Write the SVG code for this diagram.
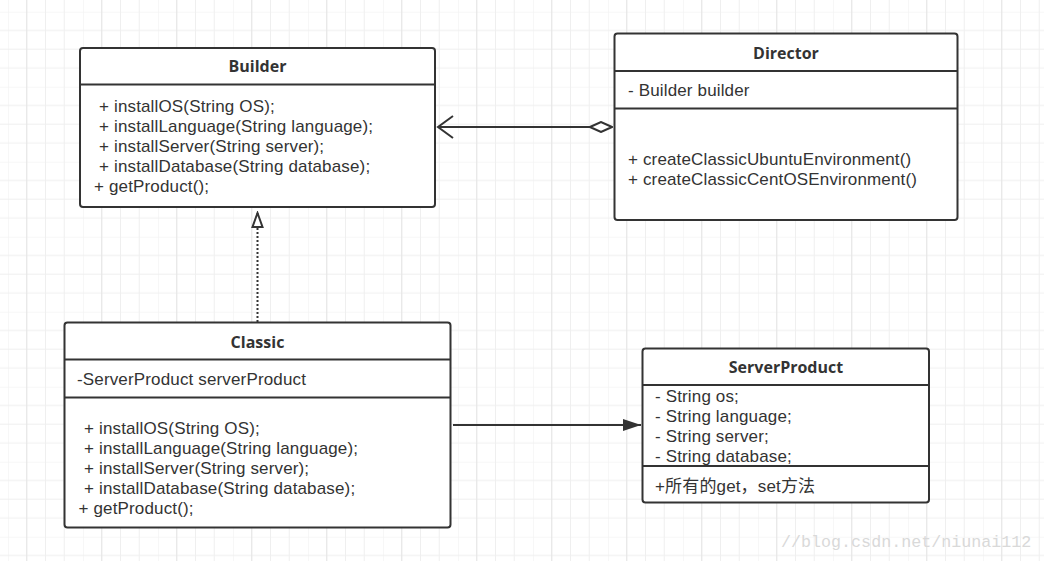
<svg xmlns="http://www.w3.org/2000/svg" width="1044" height="561" viewBox="0 0 1044 561">
<style>
.box{fill:#fff;stroke:#333;stroke-width:2}
.div{stroke:#333;stroke-width:2}
.t{font-family:"Liberation Sans","Noto Sans CJK SC",sans-serif;font-size:17px;letter-spacing:0.15px;fill:#333}
.h{font-family:"Open Sans","Noto Sans",sans-serif;font-size:16px;font-weight:bold;fill:#333;text-anchor:middle}
.ln{stroke:#333;stroke-width:2;fill:none}
.wm{font-family:"Liberation Mono","DejaVu Sans Mono",monospace;font-size:16.7px;fill:#d9d9d9}
</style>
<defs>
<pattern id="grid" x="8" y="11.7" width="75" height="75" patternUnits="userSpaceOnUse">
<path d="M0 0V75M18.75 0V75M37.5 0V75M56.25 0V75M0 0H75M0 18.75H75M0 37.5H75M0 56.25H75" stroke="#efefef" stroke-width="1" fill="none"/>
<path d="M18.75 0V75" stroke="#e6e6e6" stroke-width="1"/>
</pattern>
<marker id="open" viewBox="0 0 20 24" refX="17" refY="12" markerWidth="20" markerHeight="24" markerUnits="userSpaceOnUse" orient="auto">
<path d="M2 1L17 12L2 23" fill="none" stroke="#333" stroke-width="2"/>
</marker>
<marker id="diamond" viewBox="0 0 24 12" refX="1" refY="6" markerWidth="24" markerHeight="12" markerUnits="userSpaceOnUse" orient="auto">
<path d="M1 6L12 1L23 6L12 11Z" fill="#fff" stroke="#333" stroke-width="2"/>
</marker>
<marker id="tri" viewBox="0 0 18 14" refX="16" refY="7" markerWidth="18" markerHeight="14" markerUnits="userSpaceOnUse" orient="auto">
<path d="M16 7L2 2V12Z" fill="#fff" stroke="#333" stroke-width="2"/>
</marker>
<marker id="filled" viewBox="0 0 20 14" refX="19" refY="7" markerWidth="20" markerHeight="14" markerUnits="userSpaceOnUse" orient="auto">
<path d="M1 1L19 7L1 13Z" fill="#333"/>
</marker>
</defs>
<rect width="1044" height="561" fill="#fff"/>
<rect width="1044" height="561" fill="url(#grid)"/>
<g id="connectors">
<line class="ln" x1="612" y1="127" x2="438" y2="127" marker-start="url(#diamond)" marker-end="url(#open)"/>
<line class="ln" x1="257.5" y1="322" x2="257.5" y2="213" stroke-dasharray="2 2" marker-end="url(#tri)"/>
<line class="ln" x1="453" y1="425" x2="641" y2="425" marker-end="url(#filled)"/>
</g>
<g id="builder">
<rect class="box" x="80" y="48" width="355" height="159" rx="3"/>
<line class="div" x1="80" y1="84.5" x2="435" y2="84.5"/>
<text class="h" x="257.5" y="72">Builder</text>
<text class="t" x="99" y="112">+ installOS(String OS);</text>
<text class="t" x="99" y="132">+ installLanguage(String language);</text>
<text class="t" x="99" y="152">+ installServer(String server);</text>
<text class="t" x="99" y="172">+ installDatabase(String database);</text>
<text class="t" x="94" y="192">+ getProduct();</text>
</g>
<g id="director">
<rect class="box" x="614.5" y="33.5" width="343" height="186.5" rx="3"/>
<line class="div" x1="614.5" y1="71" x2="957.5" y2="71"/>
<line class="div" x1="614.5" y1="108.5" x2="957.5" y2="108.5"/>
<text class="h" x="786" y="59">Director</text>
<text class="t" x="628" y="96">- Builder builder</text>
<text class="t" x="628" y="164.5">+ createClassicUbuntuEnvironment()</text>
<text class="t" x="628" y="184.5">+ createClassicCentOSEnvironment()</text>
</g>
<g id="classic">
<rect class="box" x="64.5" y="322.5" width="386" height="205" rx="3"/>
<line class="div" x1="64.5" y1="359.5" x2="450.5" y2="359.5"/>
<line class="div" x1="64.5" y1="397.5" x2="450.5" y2="397.5"/>
<text class="h" x="257.5" y="348">Classic</text>
<text class="t" x="77" y="384.5">-ServerProduct serverProduct</text>
<text class="t" x="84" y="433.5">+ installOS(String OS);</text>
<text class="t" x="84" y="453.5">+ installLanguage(String language);</text>
<text class="t" x="84" y="473.5">+ installServer(String server);</text>
<text class="t" x="84" y="493.5">+ installDatabase(String database);</text>
<text class="t" x="78.5" y="513.5">+ getProduct();</text>
</g>
<g id="serverproduct">
<rect class="box" x="642.5" y="348.5" width="286.5" height="154" rx="3"/>
<line class="div" x1="642.5" y1="385" x2="929" y2="385"/>
<line class="div" x1="642.5" y1="466" x2="929" y2="466"/>
<text class="h" x="786" y="373">ServerProduct</text>
<text class="t" x="655" y="402">- String os;</text>
<text class="t" x="655" y="422">- String language;</text>
<text class="t" x="655" y="442">- String server;</text>
<text class="t" x="655" y="462">- String database;</text>
<text class="t" x="655" y="492">+所有的get，set方法</text>
</g>
<text class="wm" x="781" y="547">//blog.csdn.net/niunai112</text>
</svg>
